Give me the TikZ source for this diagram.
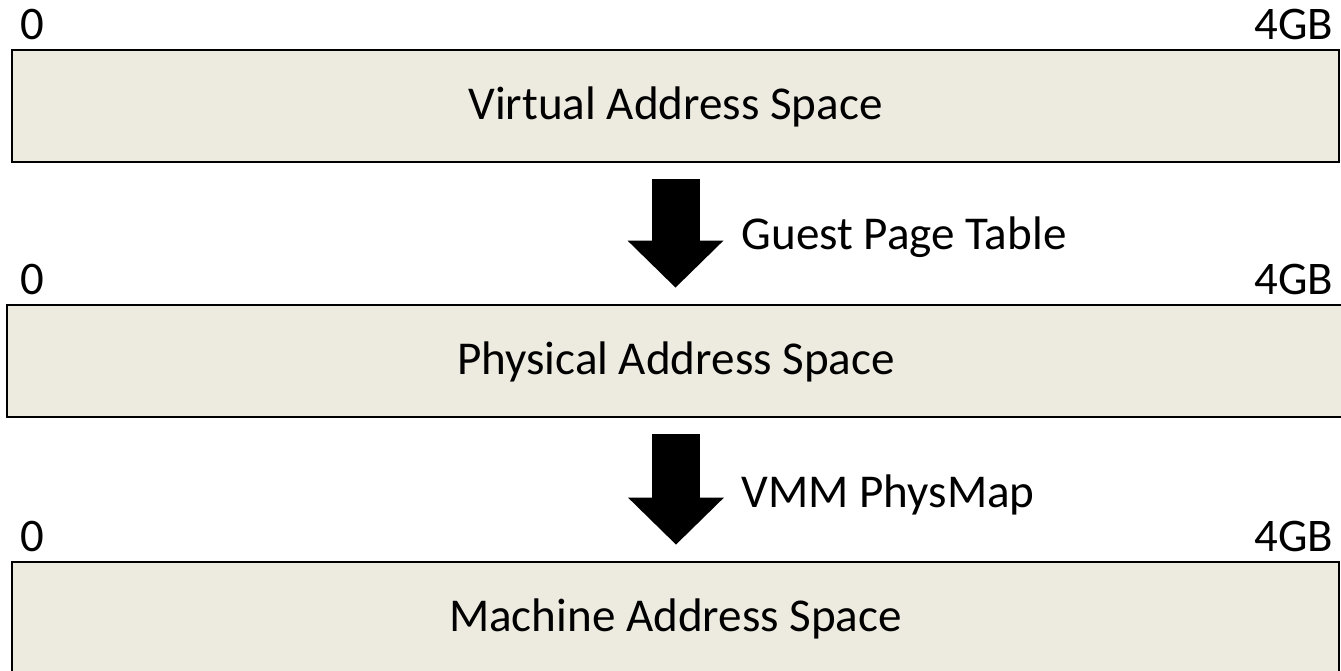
\documentclass[tikz,border=0pt]{standalone}
\usepackage{fontspec}
\setmainfont{Carlito}
\usetikzlibrary{arrows.meta,positioning,calc}
\definecolor{spacefill}{RGB}{237,234,224}

\begin{document}
\begin{tikzpicture}[space/.style={rectangle,draw,line width=0.8pt,fill=spacefill,minimum height=1.12cm,inner sep=0pt,text height=3.8mm,text depth=1mm,font=\fontsize{13.4}{16}\selectfont},
    bound/.style={font=\fontsize{13.3}{16}\selectfont,inner sep=0pt},
    maplbl/.style={font=\fontsize{13.4}{16}\selectfont,inner sep=0pt,anchor=base west},
    bigarrow/.style={line width=4.8mm,-{Triangle[width=9.6mm,length=4.7mm,line width=0pt]},shorten <=1.6mm,shorten >=1.6mm}]
    \useasboundingbox (0,0) rectangle (13.41,6.71);
    \node[space,minimum width=13.27cm] (virt) at (6.755,5.65) {Virtual Address Space};
    \node[space,minimum width=13.38cm] (phys) at (6.76,3.10) {Physical Address Space};
    \node[space,minimum width=13.27cm] (mach) at (6.755,0.53) {Machine Address Space};
    \foreach \sp/\y in {virt/6.31,phys/3.76,mach/1.19} {
        \node[bound,anchor=base west] (\sp0) at (0.20,\y) {0};
        \node[bound,anchor=base east] (\sp4) at (13.34,\y) {4GB};
    }
    \draw[bigarrow] (virt.south) -- (virt.south |- phys.north);
    \draw[bigarrow] (phys.south) -- (phys.south |- mach.north);
    \node[maplbl] (gpt) at (7.41,4.21) {Guest Page Table};
    \node[maplbl] (pmap) at (7.41,1.63) {VMM PhysMap};
\end{tikzpicture}
\end{document}
